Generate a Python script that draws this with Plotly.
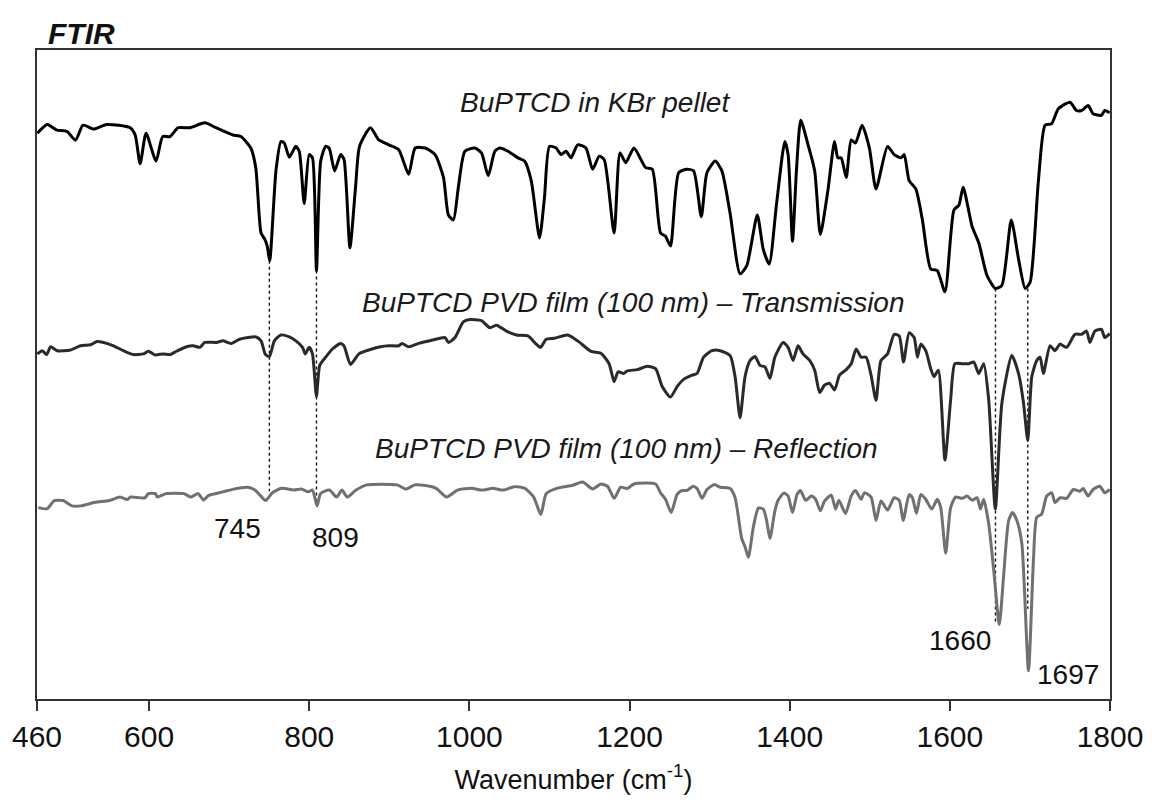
import plotly.graph_objects as go

# ---------------- data (wavenumber in cm^-1, intensity in arbitrary offset units) -------------
kbr_wn = [460.4, 472.8, 484.8, 497.3, 508.1, 517.5, 530.8, 546.9, 576.4, 582.6, 588.8, 596.2, 608.7,
          616.9, 626.0, 636.4, 650.9, 669.5, 683.5, 704.7, 714.6, 727.0, 733.2, 739.8, 744.4, 747.5,
          750.6, 758.4, 764.6, 768.9, 775.1, 783.3, 787.5, 793.7, 799.9, 804.0, 809.0, 814.3, 820.5,
          824.8, 831.7, 839.2, 843.4, 850.8, 857.8, 862.8, 876.4, 886.8, 899.3, 911.7, 924.1, 932.3,
          944.7, 957.1, 967.6, 973.8, 980.0, 986.2, 994.4, 1006.8, 1015.1, 1023.5, 1031.7, 1037.9,
          1048.3, 1060.7, 1068.9, 1077.2, 1087.6, 1093.8, 1100.0, 1108.3, 1114.5, 1120.7, 1126.9,
          1135.2, 1145.5, 1153.9, 1162.1, 1168.3, 1180.7, 1188.1, 1195.2, 1205.5, 1220.1, 1228.4,
          1238.7, 1244.9, 1251.1, 1261.4, 1271.8, 1280.0, 1289.6, 1296.7, 1307.0, 1315.3, 1325.6,
          1338.0, 1346.4, 1359.5, 1367.0, 1374.4, 1383.6, 1393.9, 1398.0, 1403.5, 1408.4, 1413.8,
          1422.9, 1431.2, 1438.3, 1447.7, 1456.0, 1460.1, 1464.3, 1470.6, 1476.8, 1482.1, 1490.4,
          1499.5, 1507.8, 1522.2, 1530.5, 1538.9, 1543.0, 1549.2, 1557.5, 1565.7, 1576.1, 1584.3,
          1593.9, 1605.1, 1611.3, 1616.6, 1627.8, 1636.1, 1646.4, 1656.8, 1665.0, 1676.7, 1685.8,
          1694.1, 1700.3, 1710.6, 1718.9, 1727.2, 1735.5, 1750.0, 1758.2, 1764.4, 1772.7, 1778.9,
          1789.2, 1793.4, 1799.6]
kbr_int = [577, 586, 580.3, 579, 570, 585.3, 581.3, 586, 582.7, 575.3, 546, 577, 548.7,
           573.7, 573.7, 582.7, 582.7, 587.7, 582.7, 575.3, 573.7, 562, 542, 475.3, 469, 462,
           447, 538.7, 568.7, 567, 552.7, 563.7, 558.7, 505.3, 555.3, 552, 437, 548.7, 563.7,
           562, 538.7, 555.3, 550.3, 460.3, 522, 563.7, 582.7, 570.3, 565.3, 560.3, 535.3, 562,
           562, 555.3, 532, 493.7, 488.7, 522, 558.7, 562, 557, 533.7, 558.7, 562,
           558.7, 552, 548.7, 528.7, 470.3, 512, 563.7, 562, 555.3, 558.7, 552,
           565.3, 562, 540.3, 553.7, 550.3, 475.3, 557, 547, 562, 542, 540.3,
           475.3, 472, 462, 537, 540.3, 538.7, 492, 537, 548.7, 538.7, 495.3,
           433.7, 442, 493.7, 458.7, 443.7, 505.3, 568.7, 555.3, 467, 538.7, 590.3,
           565.3, 538.7, 473.7, 518.7, 568.7, 552, 552, 532, 570.3, 567, 585.3,
           562, 520.3, 563.7, 555.3, 552, 555.3, 528.7, 520.3, 488.7, 438.7, 437,
           415.3, 498.7, 503.7, 522, 482, 465.3, 432, 418.7, 422, 488.7, 448.7,
           418.7, 425.3, 528.7, 585.3, 587, 602, 608.7, 600.3, 600.3, 605.3, 597,
           595.3, 600.3, 598]

trans_wn = [460.4, 466.6, 472.0, 477.0, 485.2, 501.9, 514.3, 526.7, 534.9, 543.2, 555.6, 568.0, 580.5,
            592.9, 599.1, 607.4, 617.7, 626.0, 634.2, 646.7, 655.0, 663.3, 669.5, 683.9, 692.2, 702.5,
            713.0, 733.6, 739.8, 745.3, 750.2, 756.4, 764.6, 775.1, 783.3, 791.6, 794.9, 799.9, 804.0,
            809.0, 813.1, 820.5, 828.9, 839.2, 843.4, 851.6, 862.0, 874.4, 888.8, 899.3, 911.7, 915.8,
            924.1, 936.5, 953.0, 969.6, 973.8, 982.0, 992.4, 1000.6, 1015.1, 1025.5, 1033.8, 1046.2,
            1058.6, 1073.1, 1083.5, 1088.8, 1095.9, 1106.2, 1122.8, 1135.2, 1151.8, 1164.2, 1174.5,
            1180.7, 1185.7, 1192.4, 1197.3, 1209.7, 1222.2, 1232.5, 1240.8, 1251.1, 1259.4, 1267.6,
            1278.1, 1284.3, 1292.5, 1302.9, 1313.2, 1325.6, 1331.8, 1338.0, 1344.2, 1350.5, 1356.7,
            1362.9, 1369.1, 1375.3, 1381.5, 1391.8, 1398.0, 1404.2, 1410.4, 1416.6, 1424.9, 1431.2,
            1437.4, 1443.6, 1449.8, 1456.0, 1462.2, 1470.6, 1476.8, 1483.0, 1489.2, 1495.4, 1501.6,
            1507.8, 1514.0, 1522.2, 1530.5, 1536.8, 1542.1, 1549.2, 1555.4, 1559.5, 1563.7, 1569.9,
            1576.1, 1580.2, 1585.6, 1593.9, 1601.0, 1606.3, 1615.4, 1623.7, 1629.9, 1636.1, 1642.3,
            1648.5, 1656.8, 1665.0, 1677.4, 1685.8, 1692.0, 1697.3, 1702.3, 1708.5, 1712.7, 1716.8,
            1725.1, 1731.3, 1737.5, 1745.8, 1756.2, 1764.5, 1770.7, 1774.9, 1781.1, 1789.3, 1793.5,
            1799.7]
trans_int = [352, 355.3, 351.3, 359.3, 355.3, 356, 360.3, 361.3, 364.7, 363.7, 360.3, 355.3, 351.3,
             352, 354.7, 351, 352, 351.3, 354.7, 359.3, 360.3, 358.7, 363.7, 363.7, 365.3, 362.7,
             367, 369.3, 365.3, 351.3, 349.3, 365.3, 371.3, 369.3, 365.3, 358.7, 352, 358.7, 352,
             308.7, 340.3, 348.7, 357, 362.7, 360.3, 341.3, 352, 356, 359.3, 360.3, 360.3, 362.7,
             359.3, 362.7, 366, 368.7, 363.7, 368.7, 384.7, 387, 386, 378.7, 381.3, 375.3,
             371.3, 370.3, 362, 358.7, 367, 368, 371.3, 365.3, 354.7, 352.7, 342,
             323.7, 333.7, 332, 334.7, 336, 339.3, 337, 318.7, 308, 318.7, 326,
             330.3, 332, 348.7, 355.3, 355.3, 350.3, 328.7, 287, 328.7, 345.3, 349.3,
             340.3, 338.7, 327, 348.7, 363.7, 358.7, 345.3, 360.3, 352, 345.3, 335.3,
             312.7, 320.3, 322, 315.3, 330.3, 336, 342, 357, 348.7, 348.7, 330.3,
             304.7, 345.3, 352, 372, 370.3, 343.7, 373.7, 368.7, 348.7, 362, 355.3,
             337, 328.7, 335.3, 243.7, 305.3, 342, 342, 342, 343.7, 332, 342,
             305.3, 193.7, 302, 350.3, 332, 302, 263.7, 328.7, 345.3, 348.7, 332,
             360.3, 355.3, 362, 358.7, 372, 372, 375.3, 363.7, 375.3, 377, 368.7,
             372.7]

refl_wn = [461.6, 472.7, 481.6, 492.7, 503.7, 514.8, 532.5, 550.3, 563.6, 572.5, 576.9, 594.6, 599.1,
           607.9, 610.1, 621.3, 643.4, 652.4, 661.2, 667.9, 674.5, 692.2, 705.5, 723.3, 732.1, 738.8,
           745.5, 754.3, 765.4, 780.9, 789.9, 798.7, 804.0, 809.7, 814.2, 825.2, 834.2, 840.8, 847.5,
           858.5, 871.8, 909.6, 920.6, 931.8, 945.1, 958.4, 971.7, 985.0, 1002.7, 1016.0, 1029.3,
           1042.6, 1056.0, 1069.3, 1080.3, 1089.2, 1095.9, 1109.2, 1129.0, 1141.4, 1153.9, 1164.2,
           1172.5, 1180.7, 1189.0, 1197.3, 1205.5, 1232.5, 1238.7, 1244.9, 1252.0, 1259.4, 1265.6,
           1271.8, 1279.3, 1284.3, 1290.5, 1296.7, 1305.8, 1313.2, 1325.6, 1331.8, 1340.1, 1344.2,
           1348.4, 1354.6, 1360.8, 1367.0, 1371.2, 1375.3, 1381.5, 1385.6, 1392.7, 1398.0, 1403.5,
           1409.2, 1413.4, 1420.0, 1427.1, 1432.4, 1438.3, 1443.6, 1451.9, 1457.3, 1461.4, 1469.7,
           1476.8, 1482.1, 1489.2, 1493.3, 1501.6, 1507.8, 1514.0, 1522.2, 1530.5, 1536.8, 1541.7,
           1549.2, 1553.3, 1558.3, 1563.7, 1569.9, 1577.4, 1584.3, 1588.6, 1594.8, 1601.0, 1607.2,
           1615.4, 1621.6, 1627.8, 1634.0, 1638.2, 1642.3, 1648.5, 1654.7, 1661.8, 1667.1, 1673.4,
           1678.3, 1683.7, 1689.9, 1698.2, 1704.4, 1708.5, 1714.7, 1720.9, 1727.2, 1731.4, 1737.6,
           1745.8, 1754.2, 1762.5, 1766.6, 1772.7, 1778.9, 1787.3, 1793.5, 1799.7]
refl_int = [195.2, 194.1, 202.4, 202.4, 197, 197, 200.6, 202.4, 206, 203.4, 206, 205.2, 209.5,
            209.5, 206, 209.5, 209.5, 206, 209.5, 203.1, 207.7, 211.3, 214.1, 216, 213.1, 207.7,
            202.4, 210.6, 214.9, 213.1, 214.1, 211.3, 213.1, 197, 209.5, 213.1, 206, 213.1, 206,
            213.1, 218.4, 218.4, 214.1, 218.4, 217.7, 214.9, 206, 213.1, 214.9, 213.1, 214.9,
            213.1, 216.6, 214.9, 206, 188.1, 209.5, 214.9, 218, 221.3, 214.3, 219.3,
            217, 204.7, 216, 214.7, 219.3, 219.3, 210.3, 203.7, 190.3, 208.7, 212.7,
            212.7, 217, 214.7, 204.7, 213.7, 218.7, 216, 214.7, 205.3, 163.7, 155.3,
            144.7, 175.3, 194.7, 193.7, 182, 163.7, 192, 202.7, 210, 207, 190.3,
            208.7, 212.7, 202.7, 207, 203.7, 192, 202, 208, 193.7, 202.7, 189.3,
            207, 212.7, 203.7, 210.3, 206, 182, 202, 192.7, 205.3, 202.7, 182,
            208.7, 205.3, 189.3, 208.7, 203.7, 193.7, 203.7, 195.3, 148.7, 195.3, 206,
            204.7, 207, 202.7, 205.3, 193.7, 203.7, 178.7, 132, 76, 125.3, 182,
            190.3, 182, 158.7, 28.7, 142, 185.3, 188.7, 207, 210.3, 200.3, 205.3,
            204.7, 213.7, 212, 214.7, 207, 213.7, 217, 210.3, 213.7]

tick_vals = [460, 600, 800, 1000, 1200, 1400, 1600, 1800]
tick_text = ["460", "600", "800", "1000", "1200", "1400", "1600", "1800"]

spectrum_labels = ["BuPTCD in KBr pellet",
                   "BuPTCD PVD film (100 nm) \u2013 Transmission",
                   "BuPTCD PVD film (100 nm) \u2013 Reflection"]
peak_labels = ["745", "809", "1660", "1697"]
# dotted marker lines: wavenumber, start intensity (upper spectrum), end intensity (lower spectrum)
marker_wn = [750.2, 809.0, 1657.0, 1697.3]
marker_top = [447, 437, 418.7, 418.7]
marker_bottom = [212, 201, 78, 92]

FONT = "Liberation Sans, Arial, sans-serif"

fig = go.Figure()

# dotted guide lines
for wn, y0, y1 in zip(marker_wn, marker_top, marker_bottom):
    fig.add_trace(go.Scatter(x=[wn, wn], y=[y0, y1], mode="lines",
                             line=dict(color="#111111", width=1.4, dash="dot"),
                             hoverinfo="skip", showlegend=False))

line_common = dict(width=3, shape="spline", smoothing=0.6)
fig.add_trace(go.Scatter(x=refl_wn, y=refl_int, mode="lines", name=spectrum_labels[2],
                         line=dict(color="#707070", **line_common), showlegend=False))
fig.add_trace(go.Scatter(x=trans_wn, y=trans_int, mode="lines", name=spectrum_labels[1],
                         line=dict(color="#2a2a2a", **line_common), showlegend=False))
fig.add_trace(go.Scatter(x=kbr_wn, y=kbr_int, mode="lines", name=spectrum_labels[0],
                         line=dict(color="#000000", **line_common), showlegend=False))

annotations = []
label_pos = [(1156.7, 608), (1205.2, 404), (1196.5, 256)]
for txt, (xx, yy) in zip(spectrum_labels, label_pos):
    annotations.append(dict(x=xx, y=yy, xref="x", yref="y", text="<i>" + txt + "</i>",
                            showarrow=False,
                            font=dict(family=FONT, size=28, color="#1a1a1a"),
                            xanchor="center", yanchor="middle"))
peak_pos = [(710.9, 174), (832.6, 165), (1612.5, 60), (1747.8, 25)]
for txt, (xx, yy) in zip(peak_labels, peak_pos):
    annotations.append(dict(x=xx, y=yy, xref="x", yref="y", text=txt, showarrow=False,
                            font=dict(family=FONT, size=28, color="#111111"),
                            xanchor="center", yanchor="middle"))
annotations.append(dict(x=(42 - 33) / (1155 - 33 - 43), y=1 + (50 - 33) / (802 - 50 - 90),
                        xref="paper", yref="paper", text="<b><i>FTIR</i></b>",
                        showarrow=False, font=dict(family=FONT, size=30, color="#111111"),
                        xanchor="left", yanchor="middle"))

fig.update_layout(
    width=1155, height=802,
    margin=dict(l=33, r=43, t=50, b=90),
    paper_bgcolor="white", plot_bgcolor="white",
    annotations=annotations,
    xaxis=dict(range=[460, 1800], tickvals=tick_vals, ticktext=tick_text,
               ticks="outside", ticklen=10, tickwidth=1.5, tickcolor="#333333",
               showline=True, linecolor="#333333", linewidth=1.8, mirror=True,
               showgrid=False, zeroline=False,
               tickfont=dict(family=FONT, size=30, color="#111111"),
               title=dict(text="Wavenumber (cm<sup>-1</sup>)", standoff=18,
                          font=dict(family=FONT, size=27, color="#111111"))),
    yaxis=dict(range=[0, 662], showticklabels=False, ticks="", showgrid=False,
               zeroline=False, showline=True, linecolor="#333333", linewidth=1.8, mirror=True),
)

fig.write_html("out.html")
